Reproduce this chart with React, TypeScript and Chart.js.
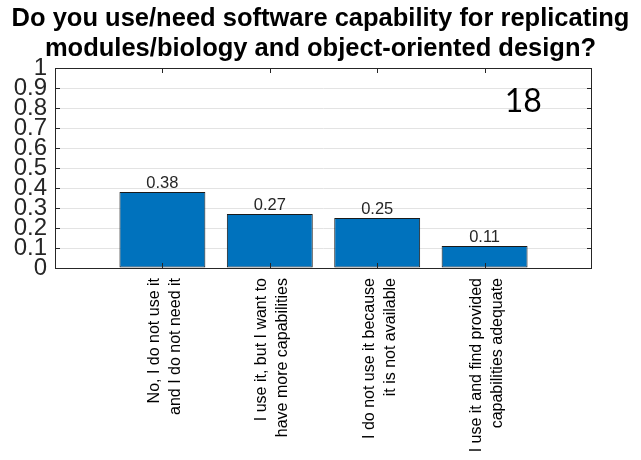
import { useEffect, useRef } from 'react';
import { Chart, registerables } from 'chart.js';

Chart.register(...registerables);

// Survey answers (two-line labels) and the share of respondents for each
const answers: string[][] = [
  ['No, I do not use it', 'and I do not need it'],
  ['I use it, but I want to', 'have more capabilities'],
  ['I do not use it because', 'it is not available'],
  ['I use it and find provided', 'capabilities adequate'],
];
const shares: number[] = [0.38, 0.27, 0.25, 0.11];
const yTickValues: number[] = [0, 0.1, 0.2, 0.3, 0.4, 0.5, 0.6, 0.7, 0.8, 0.9, 1];
const titleLines: string[] = [
  'Do you use/need software capability for replicating',
  'modules/biology and object-oriented design?',
];
const respondentCount = '18';
// where the respondent count sits, in axis units
const countAt = { x: 4.36, y: 0.78 };

const AXIS_COLOR = '#262626';
const BAR_COLOR = '#0072BD';
const FONT = '"Liberation Sans", Arial, sans-serif';

// empty slots at both ends give the axis its margin around the bars
const slotLabels: (string | string[])[] = ['', ...answers, ''];
const slotValues: (number | null)[] = [null, ...shares, null];

const framePlugin = {
  id: 'frameAndMarks',
  afterDatasetsDraw(chart: any) {
    const { ctx, chartArea: a, scales } = chart;
    const x = scales.x;
    const y = scales.y;
    ctx.save();

    // value labels above the bars
    const meta = chart.getDatasetMeta(0);
    ctx.fillStyle = AXIS_COLOR;
    ctx.font = `16.5px ${FONT}`;
    ctx.textAlign = 'center';
    ctx.textBaseline = 'alphabetic';
    meta.data.forEach((bar: any, i: number) => {
      const v = slotValues[i];
      if (v == null) return;
      ctx.fillText(v.toFixed(2), bar.x, y.getPixelForValue(v) - 4);
    });

    // box around the plot
    ctx.strokeStyle = AXIS_COLOR;
    ctx.lineWidth = 1;
    ctx.strokeRect(Math.round(a.left) + 0.5, Math.round(a.top) + 0.5,
      Math.round(a.right - a.left) - 1, Math.round(a.bottom - a.top));

    // inward tick marks on all four sides
    const len = 5;
    ctx.beginPath();
    yTickValues.forEach((v) => {
      const py = Math.round(y.getPixelForValue(v)) + 0.5;
      ctx.moveTo(a.left, py);
      ctx.lineTo(a.left + len, py);
      ctx.moveTo(a.right, py);
      ctx.lineTo(a.right - len, py);
    });
    slotValues.forEach((v, i) => {
      if (v == null) return;
      const px = Math.round(x.getPixelForValue(i)) + 0.5;
      ctx.moveTo(px, a.bottom);
      ctx.lineTo(px, a.bottom - len);
      ctx.moveTo(px, a.top);
      ctx.lineTo(px, a.top + len);
    });
    ctx.stroke();

    // respondent count
    ctx.fillStyle = '#000';
    ctx.font = '32px Lato, "Open Sans", sans-serif';
    ctx.textAlign = 'center';
    ctx.fillText(respondentCount, x.getPixelForValue(countAt.x), y.getPixelForValue(countAt.y));
    ctx.restore();
  },
};

export default function App() {
  const canvasRef = useRef<HTMLCanvasElement | null>(null);

  useEffect(() => {
    if (!canvasRef.current) return;
    const chart = new Chart(canvasRef.current, {
      type: 'bar',
      data: {
        labels: slotLabels,
        datasets: [
          {
            data: slotValues,
            backgroundColor: BAR_COLOR,
            borderColor: '#1a1a1a',
            borderWidth: 1,
            borderSkipped: false,
            barPercentage: 0.8,
            categoryPercentage: 1,
          },
        ],
      },
      options: {
        animation: false,
        responsive: false,
        maintainAspectRatio: false,
        layout: { padding: 0 },
        plugins: {
          legend: { display: false },
          tooltip: { enabled: false },
          title: {
            display: true,
            text: titleLines,
            color: '#000',
            font: { family: FONT, size: 25.5, weight: 'bold', lineHeight: '30px' },
            padding: { top: 4, bottom: 4 },
          },
        },
        scales: {
          x: {
            type: 'category',
            offset: false,
            grid: { display: false, drawTicks: false },
            border: { display: false },
            ticks: {
              autoSkip: false,
              minRotation: 90,
              maxRotation: 90,
              padding: 10,
              labelOffset: -8,
              color: '#000',
              font: { family: FONT, size: 16, lineHeight: '21px' },
            },
            afterFit: (scale: any) => {
              scale.height = 192;
            },
          },
          y: {
            min: 0,
            max: 1,
            grid: { color: '#e3e3e3', drawTicks: false },
            border: { display: false },
            afterBuildTicks: (scale: any) => {
              scale.ticks = yTickValues.map((v) => ({ value: v }));
            },
            ticks: {
              autoSkip: false,
              padding: 8,
              color: AXIS_COLOR,
              font: { family: FONT, size: 24 },
              callback: (v: any) => String(Math.round(Number(v) * 10) / 10),
            },
            afterFit: (scale: any) => {
              scale.width = 55;
            },
          },
          // blank right-hand margin so the title stays centred on the page
          yMargin: {
            position: 'right',
            min: 0,
            max: 1,
            grid: { display: false, drawTicks: false },
            border: { display: false },
            ticks: { display: false },
            afterFit: (scale: any) => {
              scale.width = 49;
            },
          },
        },
      },
      plugins: [framePlugin],
    });
    return () => chart.destroy();
  }, []);

  return (
    <div style={{ position: 'absolute', left: 0, top: 0, width: 641, height: 460, background: '#fff' }}>
      <canvas ref={canvasRef} width={641} height={460} />
    </div>
  );
}
